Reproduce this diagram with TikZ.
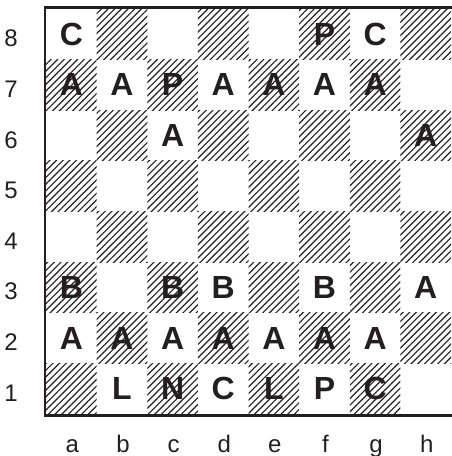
\documentclass[tikz,border=0pt]{standalone}
\usepackage{fontspec}
\setmainfont{Liberation Sans}
\usetikzlibrary{patterns.meta}
\definecolor{boardInk}{HTML}{231F20}
\definecolor{boardPaper}{HTML}{FFFFFF}

\begin{document}
\begin{tikzpicture}[x=1pt,y=-1pt,line cap=rect]
\path[fill=boardPaper] (0,0) rectangle (451,456);
\useasboundingbox (0,0) rectangle (451,456);
\def\cellsize{50.625}
\tikzset{hatch/.style={pattern={Lines[angle=45,distance=4.7pt,line width=1.15pt]},pattern color=boardInk},
  piece/.style={text=boardInk,font=\fontsize{32}{32}\selectfont\bfseries,inner sep=0pt},
  coordlabel/.style={text=boardInk,font=\fontsize{24}{24}\selectfont,anchor=base,inner sep=0pt},
  frame/.style={draw=boardInk,line width=2.8pt}}
% dark squares
\foreach \col in {0,...,7}{
  \foreach \row in {1,...,8}{
    \pgfmathtruncatemacro{\shade}{mod(\col+\row,2)}
    \ifnum\shade=1
      \path[hatch] ({46+\col*\cellsize},{414-\row*\cellsize}) rectangle ++(\cellsize,\cellsize);
    \fi
  }}
% board edge, open on the right
\path[frame] (451,7.5) -- (45,7.5) -- (45,415.5) -- (451,415.5);
% ranks and files
\foreach \row in {1,...,8}
  \node[coordlabel] (rank\row) at (11,{414-(\row-0.5)*\cellsize+12.5}) {\row};
\foreach \f [count=\col from 0] in {a,...,h}
  \node[coordlabel] (file\f) at ({47+(\col+0.5)*\cellsize},452.5) {\f};
% pieces
\foreach \sqname/\col/\row/\piece in {a8/0/8/C,f8/5/8/P,g8/6/8/C,
    a7/0/7/A,b7/1/7/A,c7/2/7/P,d7/3/7/A,e7/4/7/A,f7/5/7/A,g7/6/7/A,
    c6/2/6/A,h6/7/6/A,
    a3/0/3/B,c3/2/3/B,d3/3/3/B,f3/5/3/B,h3/7/3/A,
    a2/0/2/A,b2/1/2/A,c2/2/2/A,d2/3/2/A,e2/4/2/A,f2/5/2/A,g2/6/2/A,
    b1/1/1/L,c1/2/1/N,d1/3/1/C,e1/4/1/L,f1/5/1/P,g1/6/1/C}
  \node[piece] (\sqname) at ({46+(\col+0.5)*\cellsize},{414-(\row-0.5)*\cellsize}) {\piece};
\end{tikzpicture}
\end{document}
